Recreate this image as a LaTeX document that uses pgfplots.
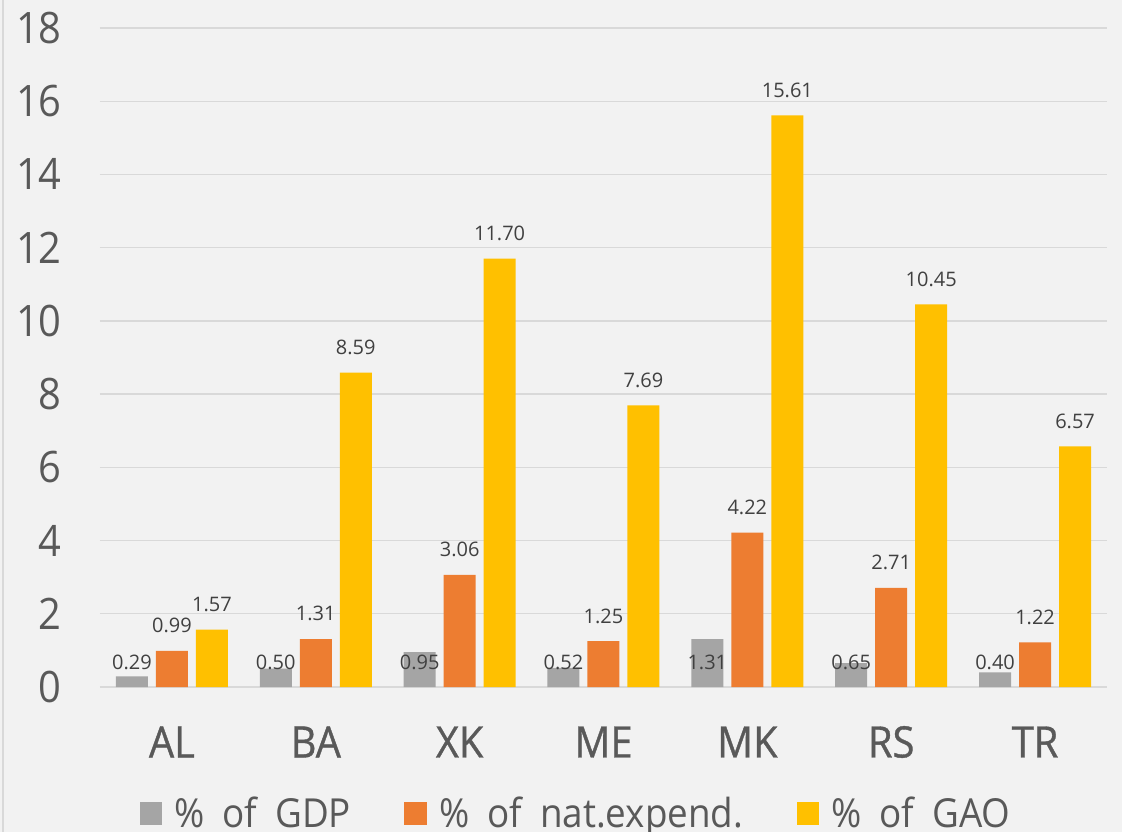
\documentclass[border=0pt]{standalone}
\usepackage{fontspec}
\setmainfont{Open Sans}
\newfontfamily\thinf[FakeStretch=0.92]{Open Sans}
\newfontfamily\catf[FakeStretch=0.92,FakeBold=0.8]{Open Sans}
\usepackage{pgfplots}
\pgfplotsset{compat=1.18}
\definecolor{bg}{HTML}{F2F2F2}
\definecolor{gridc}{HTML}{D9D9D9}
\definecolor{tickc}{HTML}{595959}
\definecolor{labc}{HTML}{404040}
\definecolor{cgray}{HTML}{A5A5A5}
\definecolor{corange}{HTML}{ED7D31}
\definecolor{cyellow}{HTML}{FFC000}
\begin{document}
\begin{tikzpicture}
\useasboundingbox (-75pt,-108.75pt) rectangle (766.5pt,515.25pt);
\fill[bg] (-75pt,-108.75pt) rectangle (766.5pt,515.25pt);
\draw[color=gridc, line width=1.5pt] (-72.6pt,-108.75pt) -- (-72.6pt,515.25pt);
\begin{scope}
\clip (-75pt,-108.75pt) rectangle (766.5pt,515.25pt);
\begin{axis}[
  scale only axis, width=755.25pt, height=494.25pt,
  ymin=0, ymax=18, xmin=-0.5, xmax=6.5,
  ytick={0,2,...,18}, xtick={0,...,6},
  xticklabels={AL,BA,XK,ME,MK,RS,TR},
  axis line style={draw=none}, major tick length=0pt,
  ymajorgrids, grid style={color=gridc, line width=1pt},
  /pgf/number format/assume math mode=true,
  yticklabel style={font=\thinf\fontsize{32.5}{32.5}\selectfont, text=tickc, anchor=east, inner sep=0pt, xshift=-28.5pt},
  xticklabel style={font=\catf\fontsize{32.5}{32.5}\selectfont, text=tickc, anchor=center, inner sep=0pt, yshift=-41.25pt},
  ybar, bar width=24pt,
  nodes near coords={\pgfmathprintnumber[fixed,fixed zerofill,precision=2]{\pgfplotspointmeta}},
  every node near coord/.append style={font=\fontsize{15}{15}\selectfont, text=labc, anchor=center, yshift=19pt},
  legend style={at={(0.4717,-0.192)}, anchor=center, draw=none, fill=none,
    font=\thinf\fontsize{30}{30}\selectfont, text=tickc,
    nodes={inner sep=0pt, anchor=west},
    /tikz/every odd column/.append style={column sep=9pt},
    /tikz/every even column/.append style={column sep=40pt}},
  legend columns=3,
  legend image code/.code={\fill[#1] (0pt,-8.5pt) rectangle (17pt,8.5pt);},
]
\addplot[fill=cgray, draw=none, bar shift=-30pt, nodes near coords={}] coordinates {(0,0.29) (1,0.50) (2,0.95) (3,0.52) (4,1.31) (5,0.65) (6,0.40)};
\addplot[fill=corange, draw=none, bar shift=0pt] coordinates {(0,0.99) (1,1.31) (2,3.06) (3,1.25) (4,4.22) (5,2.71) (6,1.22)};
\addplot[fill=cyellow, draw=none, bar shift=30pt] coordinates {(0,1.57) (1,8.59) (2,11.70) (3,7.69) (4,15.61) (5,10.45) (6,6.57)};
\addplot[draw=none, fill=none, bar shift=-30pt, point meta=explicit, forget plot,
  every node near coord/.append style={yshift=-19pt}] coordinates {(0,0.66)[0.29] (1,0.66)[0.50] (2,0.66)[0.95] (3,0.66)[0.52] (4,0.66)[1.31] (5,0.66)[0.65] (6,0.66)[0.40]};
\legend{\%\hspace{0.45em}of\hspace{0.45em}GDP, \%\hspace{0.45em}of\hspace{0.45em}nat.expend., \%\hspace{0.45em}of\hspace{0.45em}GAO}
\end{axis}
\end{scope}
\end{tikzpicture}
\end{document}
